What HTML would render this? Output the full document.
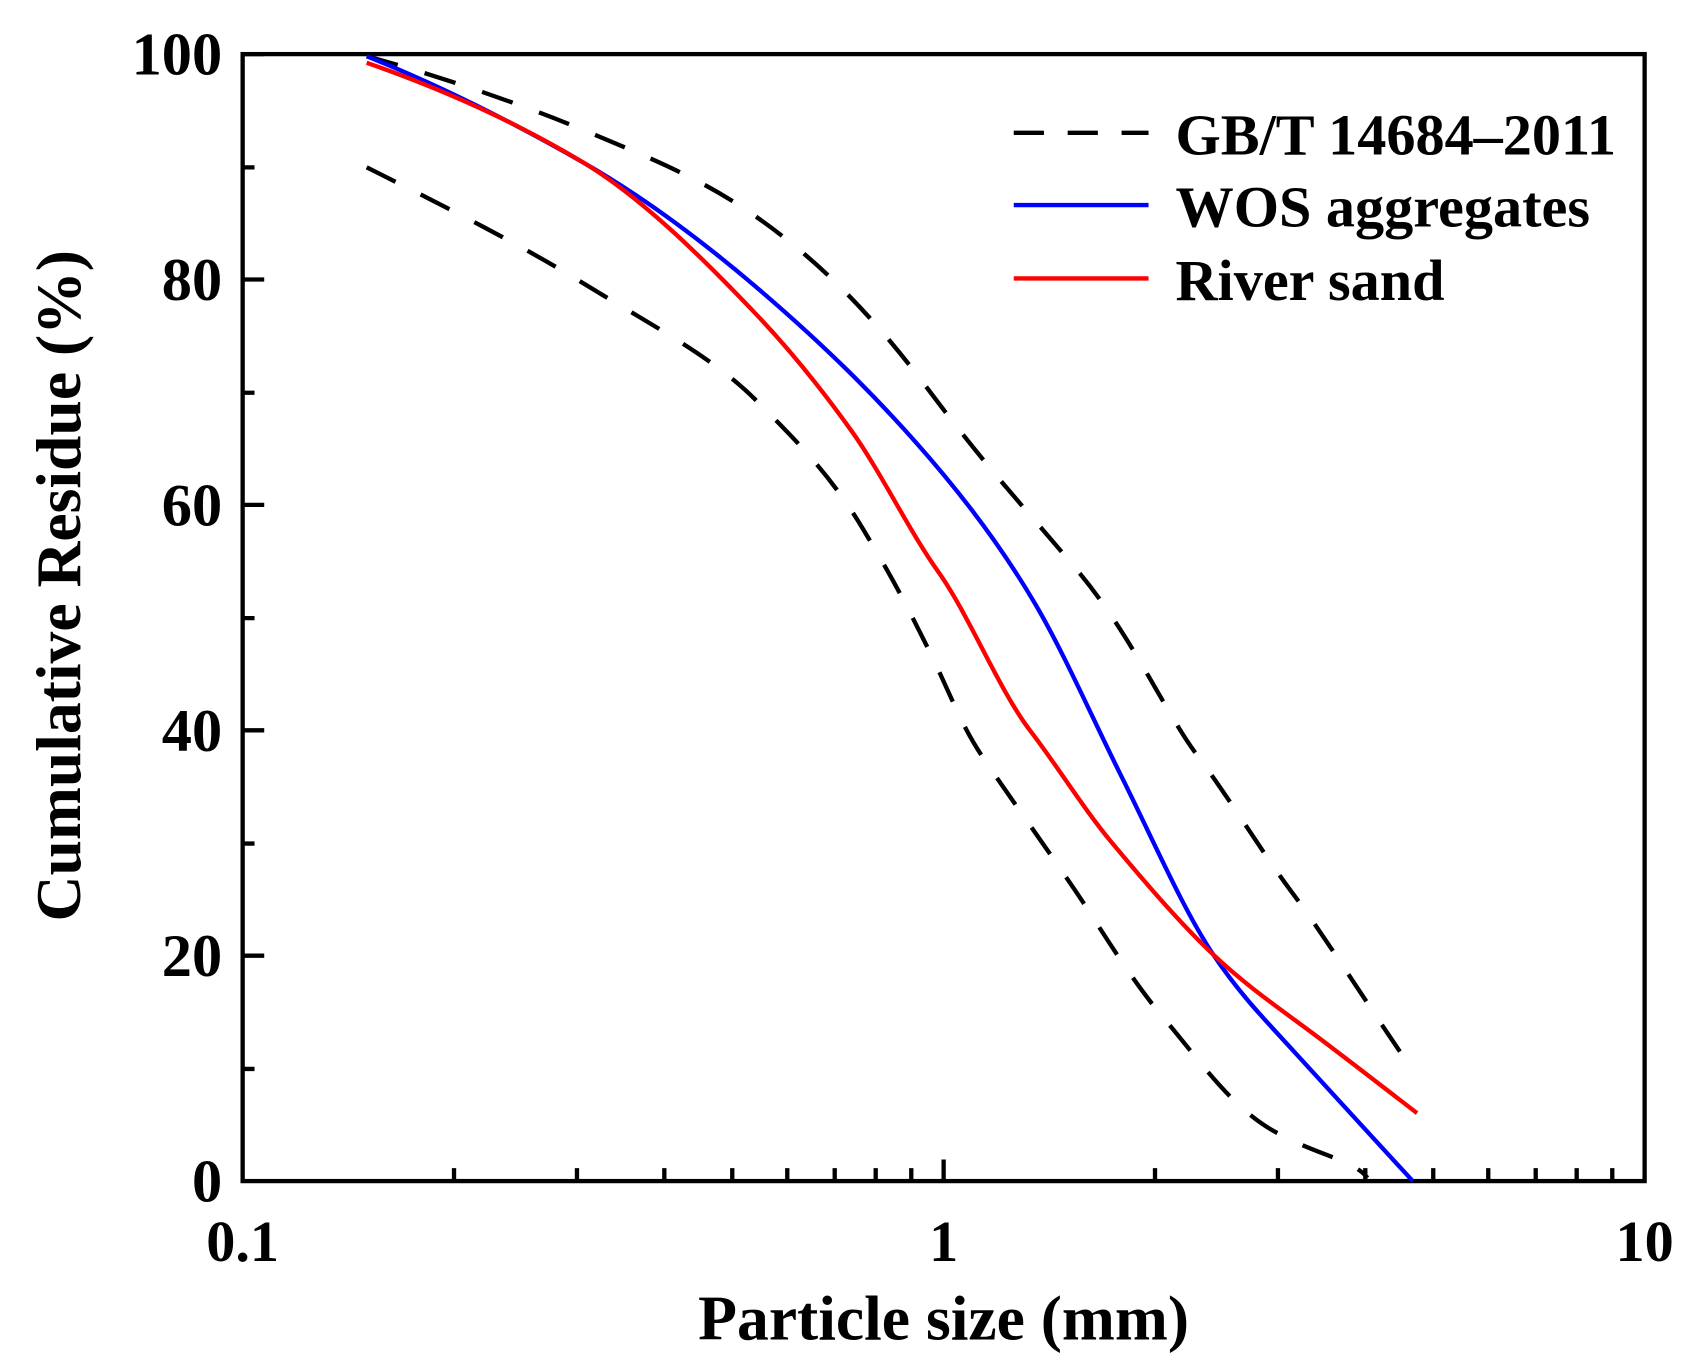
<!DOCTYPE html>
<html><head><style>html,body{margin:0;padding:0;background:#fff}svg{display:block}</style></head>
<body>
<svg width="1691" height="1370" viewBox="0 0 1568 1270" xmlns="http://www.w3.org/2000/svg" font-family="'Liberation Serif', serif" font-weight="bold">
<rect width="1568" height="1270" fill="#fff"/>
<g stroke="#000" stroke-width="4" fill="none">
<rect x="225" y="50" width="1300" height="1045"/>
<path d="M225 50h20M225 259h20M225 468h20M225 677h20M225 886h20M225 155h11M225 364h11M225 573h11M225 782h11M225 991h11"/>
<path d="M421 1095v-12M535 1095v-12M616 1095v-12M679 1095v-12M730 1095v-12M774 1095v-12M812 1095v-12M845 1095v-12M875 1095v-20M1071 1095v-12M1185 1095v-12M1266 1095v-12M1329 1095v-12M1380 1095v-12M1424 1095v-12M1462 1095v-12M1495 1095v-12"/>
</g>
<g fill="none" stroke-width="4" stroke-linejoin="round">
<path stroke="#000" stroke-dasharray="30 26" d="M340 52 C400 68 480 95 540 120 S650 165 700 200 S800 280 860 360 S950 470 1000 530 S1080 660 1110 700 S1170 790 1200 830 S1280 950 1312 995"/>
<path stroke="#000" stroke-dasharray="30 26" d="M340 155 C400 185 480 225 540 262 S660 330 700 370 S770 440 800 490 S840 560 860 600 S890 670 910 700 S980 800 1000 830 S1050 910 1080 945 S1140 1025 1180 1048 S1255 1075 1268 1092"/>
<path stroke="#0000ff" d="M340 52 C406.7 78.7 473.3 112 540 150 C593.3 180.4 646.7 219.7 700 265 C758.3 314.6 816.7 370 875 440 C903.3 474 931.7 511.9 960 560 C986.7 605.4 1013.3 666.6 1040 720 C1068.3 776.6 1096.7 842.6 1125 885 C1150 922.5 1175 947.5 1200 975 C1236.7 1015.4 1273.3 1055 1310 1095"/>
<path stroke="#ff0000" d="M340 58 C406.7 81.3 473.3 110 540 150 C593.3 182 646.7 234 700 290 C730 321.5 760 358 790 400 C816.7 437.4 843.3 492.6 870 530 C898.3 569.6 926.7 640.2 955 677 C980 709.5 1005 750 1030 780 C1061.7 818 1093.3 854.9 1125 885 C1156.7 915 1188.3 936.2 1220 960 C1251.3 983.5 1282.7 1008 1314 1032"/>
</g>
<g font-size="56" fill="#000" text-anchor="end">
<text x="206" y="69">100</text><text x="206" y="278">80</text><text x="206" y="487">60</text><text x="206" y="696">40</text><text x="206" y="905">20</text><text x="206" y="1114">0</text>
</g>
<g font-size="54" fill="#000" text-anchor="middle">
<text x="225" y="1169">0.1</text><text x="875" y="1169">1</text><text x="1525" y="1169">10</text>
<text x="875" y="1242" font-size="59">Particle size (mm)</text>
<text transform="translate(74 543) rotate(-90)" font-size="59">Cumulative Residue (%)</text>
</g>
<g stroke-width="4">
<path stroke="#000" stroke-dasharray="28 22" d="M940 123h125"/>
<path stroke="#0000ff" d="M940 190h125"/>
<path stroke="#ff0000" d="M940 258h125"/>
</g>
<g font-size="54" fill="#000">
<text x="1090" y="143">GB/T 14684–2011</text>
<text x="1090" y="210">WOS aggregates</text>
<text x="1090" y="278">River sand</text>
</g>
</svg>
</body></html>
